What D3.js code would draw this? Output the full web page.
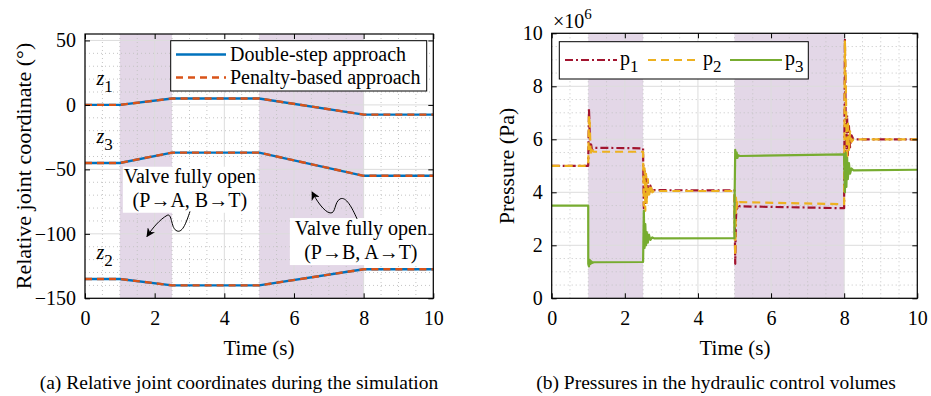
<!DOCTYPE html>
<html>
<head>
<meta charset="utf-8">
<script src="https://cdn.jsdelivr.net/npm/d3@7"></script>
<style>
  body { margin: 0; background: #fff; }
  svg, svg text { font-family: "Liberation Serif", "Times New Roman", serif; }
  .tick line { stroke: #000; }
</style>
</head>
<body>
<svg id="chart" width="931" height="396"></svg>
<script>
// ---- data ----
// (a) relative joint coordinates, degrees
var jointTime = [0, 1, 2.5, 5, 8, 10];
var z1 = [0, 0, 5, 5, -7.5, -7.5];
var z3 = [-45, -45, -37, -37, -55, -55];
var z2 = [-135, -135, -140, -140, -127.5, -127.5];

// (b) pressures, x1e6 Pa
var pTime = [0, 0.999, 1.0, 1.02, 1.04, 1.06, 1.08, 1.1, 1.15, 2.499,
             2.5, 2.52, 2.54, 2.56, 2.58, 2.6, 2.63, 2.66, 2.7, 2.75,
             2.8, 4.999, 5.0, 5.02, 5.04, 5.06, 5.08, 5.1, 5.15, 7.999,
             8.0, 8.02, 8.04, 8.06, 8.08, 8.1, 8.13, 8.16, 8.2, 8.25, 10];
var p1 = [5.0, 5.0, 5.2, 7.15, 6.2, 5.5, 5.8, 5.6, 5.68, 5.66,
          5.5, 3.4, 4.8, 3.6, 4.6, 3.8, 4.4, 3.9, 4.25, 4.0,
          4.08, 4.07, 3.5, 1.3, 3.0, 3.6, 3.4, 3.5, 3.47, 3.4,
          4.0, 9.75, 7.0, 5.0, 6.9, 5.4, 6.5, 5.7, 6.15, 6.0, 6.0];
var p2 = [5.0, 5.0, 5.1, 6.9, 6.6, 5.7, 5.4, 5.6, 5.53, 5.53,
          5.4, 3.5, 4.9, 3.3, 4.7, 3.6, 4.5, 3.8, 4.3, 4.0,
          4.05, 4.05, 3.0, 1.6, 3.8, 3.4, 3.7, 3.6, 3.63, 3.55,
          4.2, 9.7, 8.5, 6.5, 5.2, 6.7, 5.6, 6.3, 5.9, 6.0, 6.0];
var p3 = [3.5, 3.5, 1.3, 1.2, 1.45, 1.3, 1.4, 1.33, 1.36, 1.37,
          1.4, 3.3, 1.9, 2.8, 2.0, 2.5, 2.1, 2.4, 2.2, 2.3,
          2.26, 2.27, 3.5, 5.6, 5.3, 5.5, 5.3, 5.4, 5.37, 5.43,
          5.2, 4.0, 5.5, 4.2, 5.3, 4.5, 5.1, 4.7, 4.9, 4.83, 4.85];

// valve fully open intervals (s)
var shadeSpans = [[1, 2.5], [5, 8]];
var timeTicks = [0, 2, 4, 6, 8, 10];
var jointTicks = [-150, -100, -50, 0, 50];
var pressTicks = [0, 2, 4, 6, 8, 10];

var FONT = "Liberation Serif, Times New Roman, serif";
var svg = d3.select("#chart");

// ---- helpers ----
function panel(box, xDomain, yDomain, yTicks, yMinorStep) {
    var x = d3.scaleLinear().domain(xDomain).range([box.left, box.right]);
    var y = d3.scaleLinear().domain(yDomain).range([box.bottom, box.top]);
    var g = svg.append("g");

    // shaded intervals
    g.selectAll(".shade")
        .data(shadeSpans)
        .enter().append("rect")
        .attr("x", function(d) { return x(d[0]); })
        .attr("width", function(d) { return x(d[1]) - x(d[0]); })
        .attr("y", box.top)
        .attr("height", box.bottom - box.top)
        .attr("fill", "#e3d7e7");

    // minor grid
    var xMinor = d3.range(xDomain[0], xDomain[1] + 1e-9, 0.5).filter(function(v) { return timeTicks.indexOf(v) < 0; });
    var yMinor = d3.range(yDomain[0], yDomain[1] + 1e-9, yMinorStep).filter(function(v) {
        return !yTicks.some(function(t) { return Math.abs(t - v) < 1e-9; });
    });
    g.selectAll(".xminor").data(xMinor).enter().append("line")
        .attr("x1", x).attr("x2", x).attr("y1", box.top).attr("y2", box.bottom)
        .attr("stroke", "#c4c4c4").attr("stroke-width", 1).attr("stroke-dasharray", "1,3");
    g.selectAll(".yminor").data(yMinor).enter().append("line")
        .attr("y1", y).attr("y2", y).attr("x1", box.left).attr("x2", box.right)
        .attr("stroke", "#c4c4c4").attr("stroke-width", 1).attr("stroke-dasharray", "1,3");

    // major grid
    g.selectAll(".xmajor").data(timeTicks).enter().append("line")
        .attr("x1", x).attr("x2", x).attr("y1", box.top).attr("y2", box.bottom)
        .attr("stroke", "#dcdcdc").attr("stroke-width", 1);
    g.selectAll(".ymajor").data(yTicks).enter().append("line")
        .attr("y1", y).attr("y2", y).attr("x1", box.left).attr("x2", box.right)
        .attr("stroke", "#dcdcdc").attr("stroke-width", 1);

    return { x: x, y: y, g: g, box: box, yTicks: yTicks };
}

function frame(p, yPad) {
    var b = p.box;
    var axes = svg.append("g");
    axes.append("g").attr("transform", "translate(0," + b.bottom + ")")
        .call(d3.axisBottom(p.x).tickValues(timeTicks).tickSize(-5).tickSizeOuter(0).tickPadding(13));
    axes.append("g").attr("transform", "translate(0," + b.top + ")")
        .call(d3.axisTop(p.x).tickValues(timeTicks).tickSize(-5).tickSizeOuter(0).tickFormat(""));
    axes.append("g").attr("transform", "translate(" + b.left + ",0)")
        .call(d3.axisLeft(p.y).tickValues(p.yTicks).tickSize(-5).tickSizeOuter(0).tickPadding(yPad));
    axes.append("g").attr("transform", "translate(" + b.right + ",0)")
        .call(d3.axisRight(p.y).tickValues(p.yTicks).tickSize(-5).tickSizeOuter(0).tickFormat(""));
    axes.selectAll(".domain").remove();
    axes.selectAll("g").attr("font-family", FONT).attr("font-size", 20);
    axes.selectAll(".tick text").attr("fill", "#000").style("font-family", FONT);
    axes.append("rect")
        .attr("x", b.left).attr("y", b.top)
        .attr("width", b.right - b.left).attr("height", b.bottom - b.top)
        .attr("fill", "none").attr("stroke", "#000").attr("stroke-width", 1.2);
}

// ---- (a) joint coordinates ----
var pa = panel({ left: 85, right: 433.3, top: 34, bottom: 298.3 }, [0, 10], [-150, 55], jointTicks, 10);

var lineA = d3.line()
    .x(function(d, i) { return pa.x(jointTime[i]); })
    .y(function(d) { return pa.y(d); });

// annotation boxes (under the curves)
var notesA = [
    { cx: 3.01, cy: -65.8, w: 134, h: 46, lines: ["Valve fully open", "(P\u2192A, B\u2192T)"],
      tipT: 1.78, tipV: -102, path: "M43,-25 C39,-13 35,-2 29,-6 C24,-9 25,-24 20,-21 C13,-17 6,-9 0,0" },
    { cx: 7.92, cy: -106, w: 142, h: 47, lines: ["Valve fully open", "(P\u2192B, A\u2192T)"],
      tipT: 6.52, tipV: -67.5, path: "M45,27 C40,16 34,4 28,7 C22,10 24,22 18,21 C12,20 4,8 0,0" }
];

svg.append("defs").append("marker")
    .attr("id", "head")
    .attr("viewBox", "0 0 10 10")
    .attr("refX", 9).attr("refY", 5)
    .attr("markerWidth", 9).attr("markerHeight", 9)
    .attr("markerUnits", "userSpaceOnUse")
    .attr("orient", "auto")
    .append("path").attr("d", "M0,0 L10,5 L0,10 L3,5 Z").attr("fill", "#000");

notesA.forEach(function(n) {
    var cx = pa.x(n.cx), cy = pa.y(n.cy);
    pa.g.append("rect")
        .attr("x", cx - n.w / 2).attr("y", cy - n.h / 2)
        .attr("width", n.w).attr("height", n.h)
        .attr("fill", "#fff");
    pa.g.append("text").attr("x", cx).attr("y", cy - 6.5)
        .attr("text-anchor", "middle").attr("font-size", "20px").text(n.lines[0]);
    pa.g.append("text").attr("x", cx).attr("y", cy + 17.5)
        .attr("text-anchor", "middle").attr("font-size", "20px").text(n.lines[1]);
    pa.g.append("path")
        .attr("transform", "translate(" + pa.x(n.tipT) + "," + pa.y(n.tipV) + ")")
        .attr("d", n.path)
        .attr("fill", "none").attr("stroke", "#000").attr("stroke-width", 1)
        .attr("marker-end", "url(#head)");
});

[z1, z3, z2].forEach(function(series) {
    pa.g.append("path").datum(series)
        .attr("d", lineA).attr("fill", "none")
        .attr("stroke", "#0072BD").attr("stroke-width", 2.4);
    pa.g.append("path").datum(series)
        .attr("d", lineA).attr("fill", "none")
        .attr("stroke", "#D95319").attr("stroke-width", 2.4).attr("stroke-dasharray", "7,5");
});

// curve labels
var zLabels = [{ name: "1", v: z1[0] }, { name: "3", v: z3[0] }, { name: "2", v: z2[0] }];
zLabels.forEach(function(z) {
    var t = pa.g.append("text")
        .attr("x", pa.x(0.33)).attr("y", pa.y(z.v) - 20)
        .attr("font-size", "20px");
    t.append("tspan").attr("font-style", "italic").text("z");
    t.append("tspan").attr("dy", 7).attr("font-size", "17px").text(z.name);
});

frame(pa, 9);

// legend (a)
var legA = svg.append("g");
legA.append("rect").attr("x", 170.7).attr("y", 40.7).attr("width", 256).attr("height", 50.3)
    .attr("fill", "#fff").attr("stroke", "#000").attr("stroke-width", 1);
[{ label: "Double-step approach", color: "#0072BD", dash: null, y: 54.5 },
 { label: "Penalty-based approach", color: "#D95319", dash: "7,5", y: 77.5 }].forEach(function(e) {
    legA.append("line").attr("x1", 176).attr("x2", 226).attr("y1", e.y).attr("y2", e.y)
        .attr("stroke", e.color).attr("stroke-width", 2.4).attr("stroke-dasharray", e.dash);
    legA.append("text").attr("x", 230).attr("y", e.y + 6.5).attr("font-size", "20px").text(e.label);
});

// axis labels (a)
svg.append("text")
    .attr("transform", "translate(31,166) rotate(-90)")
    .attr("text-anchor", "middle").attr("font-size", "22px")
    .text("Relative joint coordinate (\u00B0)");
svg.append("text").attr("x", 259).attr("y", 355).attr("text-anchor", "middle")
    .attr("font-size", "21px").text("Time (s)");
svg.append("text").attr("x", 239).attr("y", 389).attr("text-anchor", "middle")
    .attr("font-size", "19.5px").text("(a) Relative joint coordinates during the simulation");

// ---- (b) pressures ----
var pb = panel({ left: 551.7, right: 917.3, top: 33.3, bottom: 298.3 }, [0, 10], [0, 10], pressTicks, 0.5);

var lineB = d3.line()
    .x(function(d, i) { return pb.x(pTime[i]); })
    .y(function(d) { return pb.y(d); });

var pSeries = [
    { v: p1, color: "#A2142F", dash: "8,3,2,3", name: "1" },
    { v: p2, color: "#EDB120", dash: "8,5", name: "2" },
    { v: p3, color: "#77AC30", dash: null, name: "3" }
];
pSeries.forEach(function(s) {
    pb.g.append("path").datum(s.v)
        .attr("d", lineB).attr("fill", "none")
        .attr("stroke", s.color).attr("stroke-width", 2.2)
        .attr("stroke-linejoin", "round")
        .attr("stroke-dasharray", s.dash);
});

frame(pb, 9);

// exponent label
var ex = svg.append("text").attr("x", 553).attr("y", 28).attr("font-size", "20px");
ex.append("tspan").text("\u00D710");
ex.append("tspan").attr("dy", -9).attr("font-size", "15px").text("6");

// legend (b)
var legB = svg.append("g");
legB.append("rect").attr("x", 559.3).attr("y", 41.7).attr("width", 249).attr("height", 37.3)
    .attr("fill", "#fff").attr("stroke", "#000").attr("stroke-width", 1);
var legX = [565, 648, 730];
pSeries.forEach(function(s, i) {
    legB.append("line").attr("x1", legX[i]).attr("x2", legX[i] + 52).attr("y1", 60).attr("y2", 60)
        .attr("stroke", s.color).attr("stroke-width", 2.2).attr("stroke-dasharray", s.dash);
    var t = legB.append("text").attr("x", legX[i] + 55).attr("y", 65).attr("font-size", "20px");
    t.append("tspan").text("p");
    t.append("tspan").attr("dy", 7).attr("font-size", "17px").text(s.name);
});

// axis labels (b)
svg.append("text")
    .attr("transform", "translate(514,166) rotate(-90)")
    .attr("text-anchor", "middle").attr("font-size", "22px")
    .text("Pressure (Pa)");
svg.append("text").attr("x", 735).attr("y", 355).attr("text-anchor", "middle")
    .attr("font-size", "21px").text("Time (s)");
svg.append("text").attr("x", 716).attr("y", 389).attr("text-anchor", "middle")
    .attr("font-size", "19.5px").text("(b) Pressures in the hydraulic control volumes");
</script>
</body>
</html>
